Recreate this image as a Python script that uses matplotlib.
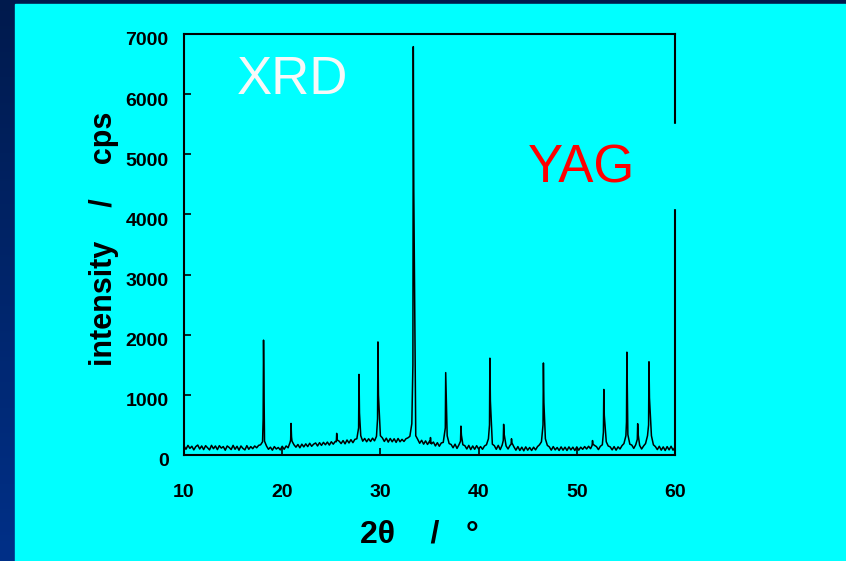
import numpy as np
import matplotlib
matplotlib.use("Agg")
import matplotlib.pyplot as plt
import matplotlib.transforms as mtransforms
from matplotlib.patches import Rectangle

plt.rcParams['font.family'] = ['Liberation Sans', 'DejaVu Sans']

# XRD scan, background counts (cps) in 0.2 deg steps
scan_step = 0.2
bg_segments = [
    (10.0, [150, 95, 160, 110, 145, 85, 140, 165, 100, 150,
            90, 155, 120, 85, 160, 105, 150, 90, 155, 115,
            140, 80, 150, 125, 90, 160, 95, 145, 80, 150,
            110, 85, 155, 95, 140, 105, 150, 120, 160, 170,
            220, 230]),
    (18.4, [150, 95, 130, 80, 140, 100, 125, 85, 145, 95, 150, 120,
            210, 230, 170]),
    (21.4, [130, 175, 120, 180, 135, 185, 140, 195, 145, 180, 200, 150,
            205, 160, 210, 170, 215, 165, 220, 180, 225, 270, 230]),
    (26.0, [190, 240, 185, 250, 200, 255, 205, 260, 270, 420, 320]),
    (28.2, [230, 275, 220, 270, 225, 280, 235, 310, 420, 320]),
    (30.2, [285, 225, 280, 215, 275, 220, 270, 210, 275, 220, 260, 225,
            270, 285, 310, 520, 720, 320]),
    (33.8, [260, 195, 245, 180, 235, 175, 230, 185,
            215, 150, 205, 145, 200, 210, 270, 320, 190]),
    (37.2, [175, 120, 180, 110, 170, 220, 170]),
    (38.6, [155, 100, 160, 90, 150, 95, 155, 100, 140, 95, 150, 170,
            270, 320, 180]),
    (41.6, [155, 95, 160, 90, 165, 220, 150, 100, 160, 190]),
    (43.6, [135, 80, 140, 75, 130, 70, 135, 80, 125, 75, 130, 85,
            140, 170, 220, 300, 270, 160]),
    (47.2, [135, 80, 140, 85, 125, 75, 135, 80, 130, 75, 135, 85,
            130, 75, 135, 80, 130, 95, 140, 100, 145, 105, 200, 160]),
    (52.0, [140, 90, 145, 170, 280, 220, 150]),
    (53.4, [135, 85, 140, 80, 135, 100, 155, 190, 320, 340, 180]),
    (55.6, [165, 110, 170, 220, 160, 100, 150, 190, 320, 370, 320, 170]),
    (58.0, [140, 90, 145, 80, 135, 75, 140, 85, 145, 80, 130]),
]

# reflections: position, top, flank before, K-alpha2 shoulder after
peak_theta = [18.10, 20.90, 25.55, 27.82, 29.75, 33.35, 35.10, 36.65, 38.20,
              41.15, 42.55, 43.35, 46.60, 51.60, 52.75, 55.10, 56.20, 57.35]
peak_top = [1910, 525, 360, 1340, 1880, 6790, 290, 1370, 480,
            1610, 510, 270, 1530, 240, 1090, 1710, 520, 1550]
peak_left = [600, 250, 220, 450, 600, 1500, 200, 450, 230,
             500, 240, 180, 500, 160, 380, 550, 260, 500]
peak_right = [1100, 300, 250, 700, 1000, 4400, 200, 1000, 330,
              900, 350, 200, 870, 180, 660, 940, 340, 950]

x_ticks = [10, 20, 30, 40, 50, 60]
y_ticks = [0, 1000, 2000, 3000, 4000, 5000, 6000, 7000]

# assemble the trace
bg_t, bg_c = [], []
for start, vals in bg_segments:
    for i, v in enumerate(vals):
        bg_t.append(round(start + scan_step * i, 2))
        bg_c.append(v)
bg_t = np.array(bg_t)
bg_c = np.array(bg_c)
pk = np.array(peak_theta)
keep = np.min(np.abs(bg_t[:, None] - pk[None, :]), axis=1) > 0.07
two_theta = np.concatenate([bg_t[keep], pk - 0.04, pk, pk + 0.05])
counts = np.concatenate([bg_c[keep], peak_left, peak_top, peak_right])
order = np.argsort(two_theta)
two_theta, counts = two_theta[order], counts[order]

fig = plt.figure(figsize=(8.46, 5.61), dpi=100)

# slide background: navy gradient frame with cyan panel
bg_ax = fig.add_axes([0, 0, 1, 1], zorder=-10)
grad = np.linspace(0, 1, 256)[:, None]
bg_ax.imshow(grad, aspect='auto', extent=[0, 1, 0, 1], origin='upper',
             cmap=matplotlib.colors.LinearSegmentedColormap.from_list(
                 'navy', ['#001a4d', '#003088']))
bg_ax.add_patch(Rectangle((15 / 846, 0), 1, 1 - 4 / 561, color='#00ffff'))
bg_ax.set_xlim(0, 1)
bg_ax.set_ylim(0, 1)
bg_ax.axis('off')

ax = fig.add_axes([184 / 846, 1 - 455 / 561, 491 / 846, 421 / 561])
ax.set_facecolor('none')
ax.plot(two_theta, counts, color='black', lw=1.1)

ax.set_xlim(10, 60)
ax.set_ylim(0, 7000)
ax.set_xticks(x_ticks)
ax.set_yticks(y_ticks)
for s in ax.spines.values():
    s.set_linewidth(1.5)
ax.tick_params(direction='in', length=5, width=1.2, top=False, right=False)
ax.tick_params(axis='x', pad=21)
ax.tick_params(axis='y', pad=11)
shift_down = mtransforms.ScaledTranslation(0, -5 / 100, fig.dpi_scale_trans)
for lab in ax.get_yticklabels():
    lab.set_transform(lab.get_transform() + shift_down)
for lab in ax.get_xticklabels() + ax.get_yticklabels():
    lab.set_fontsize(14)
    lab.set_fontweight('bold')

ax.set_xlabel('2θ    /   °', fontsize=23, fontweight='bold')
ax.xaxis.set_label_coords(0.48, -0.19)
ax.xaxis.label.set_va('center')
ax.set_ylabel('intensity    /    cps', fontsize=22, fontweight='bold')
ax.yaxis.set_label_coords(-0.163, 0.513)
ax.yaxis.label.set_va('center')

ax.text(0.22, 0.89, 'XRD', transform=ax.transAxes, fontsize=38,
        color='#f8f8f8', ha='center', va='center')
ax.text(0.81, 0.68, 'YAG', transform=ax.transAxes, fontsize=38,
        color='#ff0000', ha='center', va='center')
# gap in the right frame behind the label
ax.add_patch(Rectangle((0.98, 0.5867), 0.04, 0.1993, transform=ax.transAxes,
                       color='#00ffff', zorder=5, clip_on=False))

fig.savefig('out.png', dpi=100)
